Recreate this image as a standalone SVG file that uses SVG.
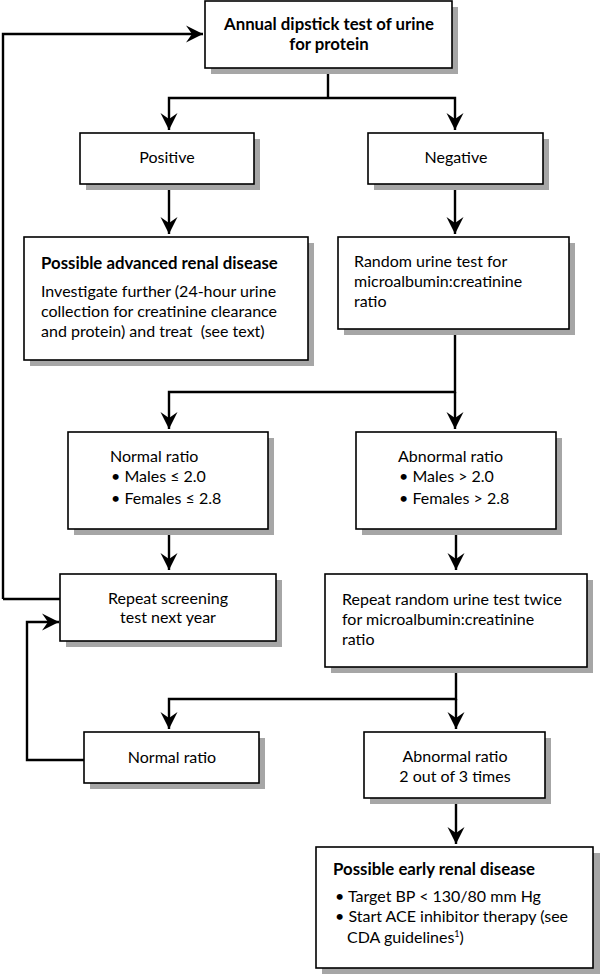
<svg xmlns="http://www.w3.org/2000/svg" width="600" height="976" viewBox="0 0 600 976">
<defs>
<marker id="ah" markerUnits="userSpaceOnUse" markerWidth="20" markerHeight="20" viewBox="-18 -10 20 20" refX="0" refY="0" orient="auto">
<path d="M0,0 L-17,-8.5 L-11,0 L-17,8.5 Z" fill="#000"/>
</marker>
</defs>
<style>
.box{fill:#fff;stroke:#000;stroke-width:1.6}
.sh{fill:#a6a6a6}
.t{font-family:Lato,"Liberation Sans",sans-serif;font-size:16px;fill:#000}
.b{font-weight:bold;font-size:16.8px}
.c{text-anchor:middle}
.ln{fill:none;stroke:#000;stroke-width:2.4}
.ar{fill:none;stroke:#000;stroke-width:2.4;marker-end:url(#ah)}
</style>
<rect width="600" height="976" fill="#fff"/>
<g id="connectors">
<path class="ar" d="M3,599 L3,34 L203,34"/>
<path class="ln" d="M328,68 L328,98"/>
<path class="ar" d="M328,98 L169,98 L169,130"/>
<path class="ar" d="M328,98 L455,98 L455,130"/>
<path class="ar" d="M169,184 L169,234"/>
<path class="ar" d="M455,184 L455,234"/>
<path class="ar" d="M455,329 L455,392 L169,392 L169,429"/>
<path class="ar" d="M455,392 L455,429"/>
<path class="ar" d="M169,529 L169,570"/>
<path class="ar" d="M456,529 L456,570"/>
<path class="ln" d="M60,599 L3,599"/>
<path class="ar" d="M456,667 L456,699 L169,699 L169,729"/>
<path class="ar" d="M456,699 L456,729"/>
<path class="ar" d="M84,760 L27,760 L27,622 L59,622"/>
<path class="ar" d="M456,798 L456,844"/>
</g>
<g id="n-annual">
<rect class="sh" x="211" y="7" width="247" height="67"/>
<rect class="box" x="205" y="1" width="247" height="67"/>
<text class="t b c" x="329" y="30">Annual dipstick test of urine</text>
<text class="t b c" x="329" y="50">for protein</text>
</g>
<g id="n-positive">
<rect class="sh" x="86" y="139" width="174" height="51"/>
<rect class="box" x="80" y="133" width="174" height="51"/>
<text class="t c" x="167" y="163">Positive</text>
</g>
<g id="n-negative">
<rect class="sh" x="374" y="139" width="175" height="51"/>
<rect class="box" x="368" y="133" width="175" height="51"/>
<text class="t c" x="456" y="163">Negative</text>
</g>
<g id="n-advanced">
<rect class="sh" x="30" y="243" width="284" height="123"/>
<rect class="box" x="24" y="237" width="284" height="123"/>
<text class="t b" x="41" y="269">Possible advanced renal disease</text>
<text class="t" x="41" y="297">Investigate further (24-hour urine</text>
<text class="t" x="41" y="317">collection for creatinine clearance</text>
<text class="t" x="41" y="337" xml:space="preserve">and protein) and treat  (see text)</text>
</g>
<g id="n-random">
<rect class="sh" x="344" y="243" width="231" height="92"/>
<rect class="box" x="338" y="237" width="231" height="92"/>
<text class="t" x="354" y="267">Random urine test for</text>
<text class="t" x="354" y="287">microalbumin:creatinine</text>
<text class="t" x="354" y="307">ratio</text>
</g>
<g id="n-normal1">
<rect class="sh" x="74" y="438" width="200" height="97"/>
<rect class="box" x="68" y="432" width="200" height="97"/>
<text class="t" x="110" y="462">Normal ratio</text>
<text class="t" x="111" y="482">• Males ≤ 2.0</text>
<text class="t" x="111" y="504">• Females ≤ 2.8</text>
</g>
<g id="n-abnormal1">
<rect class="sh" x="362" y="438" width="200" height="97"/>
<rect class="box" x="356" y="432" width="200" height="97"/>
<text class="t" x="398" y="462">Abnormal ratio</text>
<text class="t" x="399" y="482">• Males &gt; 2.0</text>
<text class="t" x="399" y="504">• Females &gt; 2.8</text>
</g>
<g id="n-repeat-screen">
<rect class="sh" x="66" y="580" width="216" height="67"/>
<rect class="box" x="60" y="574" width="216" height="67"/>
<text class="t c" x="168" y="604">Repeat screening</text>
<text class="t c" x="168" y="623">test next year</text>
</g>
<g id="n-repeat-random">
<rect class="sh" x="331" y="580" width="262" height="93"/>
<rect class="box" x="325" y="574" width="262" height="93"/>
<text class="t" x="342" y="605">Repeat random urine test twice</text>
<text class="t" x="342" y="625">for microalbumin:creatinine</text>
<text class="t" x="342" y="645">ratio</text>
</g>
<g id="n-normal2">
<rect class="sh" x="90" y="738" width="175" height="51"/>
<rect class="box" x="84" y="732" width="175" height="51"/>
<text class="t c" x="172" y="763">Normal ratio</text>
</g>
<g id="n-abnormal2">
<rect class="sh" x="370" y="738" width="181" height="66"/>
<rect class="box" x="364" y="732" width="181" height="66"/>
<text class="t c" x="455" y="762">Abnormal ratio</text>
<text class="t c" x="455" y="782">2 out of 3 times</text>
</g>
<g id="n-early">
<rect class="sh" x="322" y="853" width="278" height="121"/>
<rect class="box" x="316" y="847" width="277" height="121"/>
<text class="t b" x="333" y="875">Possible early renal disease</text>
<text class="t" x="335" y="902">• Target BP &lt; 130/80 mm Hg</text>
<text class="t" x="335" y="922">• Start ACE inhibitor therapy (see</text>
<text class="t" x="347" y="943">CDA guidelines<tspan font-size="9" dy="-6">1</tspan><tspan dy="6">)</tspan></text>
</g>
</svg>
